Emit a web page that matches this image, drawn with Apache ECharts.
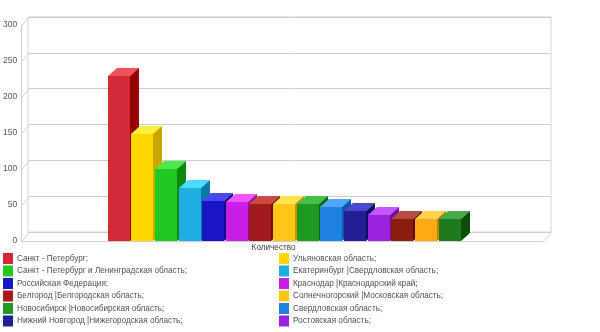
<!DOCTYPE html>
<html>
<head>
<meta charset="utf-8">
<script src="https://cdn.jsdelivr.net/npm/echarts@6/dist/echarts.min.js"></script>
<style>
html,body{margin:0;padding:0;background:#fff;}
#c{width:600px;height:332px;}
</style>
</head>
<body>
<div id="c"></div>
<script>
// ---- data ----
var categories = ['Количество'];
var regionNames = [
  'Санкт - Петербург;',
  'Ульяновская область;',
  'Санкт - Петербург и Ленинградская область;',
  'Екатеринбург |Свердловская область;',
  'Российская Федерация;',
  'Краснодар |Краснодарский край;',
  'Белгород |Белгородская область;',
  'Солнечногорский |Московская область;',
  'Новосибирск |Новосибирская область;',
  'Свердловская область;',
  'Нижний Новгород |Нижегородская область;',
  'Ростовская область;',
  '(13)', '(14)', '(15)'
];
var values = [229, 148, 100, 73, 56, 54, 52, 52, 51, 47, 42, 36, 31, 31, 30];
var yTicks = [0, 50, 100, 150, 200, 250, 300];
var visibleLegendCount = 12;

// ---- styles ----
var frontColors = ['#d42a36','#ffd800','#22c722','#1eaee2','#1616c4','#c81ee8','#a21c1c','#ffc61a','#209a20','#1f82e2','#221f96','#9a22dc','#8c1c10','#ffaa12','#1e7a1e'];
var topColors   = ['#f0525c','#fff040','#4ce84c','#48dcff','#4a4af2','#ee56ff','#cc4a44','#ffe44a','#46c046','#50a8ff','#4a48cc','#c456ff','#b44c40','#ffd24a','#46ac46'];
var sideColors  = ['#980000','#c8a800','#0b8a0b','#0a7aa8','#0c0c8a','#9010aa','#6c0c0c','#c89200','#0c660c','#0d58a8','#0e0e5a','#6c10a4','#5c0c04','#c47e00','#0a4e0a'];
var DX = 9, DY = 8;          // bar depth
var WX = 8, WY = 9;          // wall depth
var FIRST_BAR = 1;
var PITCH = 0.0453;          // bar pitch as share of band
var FILL = 0.93;
var FS = 8.2;

function renderBar(params, api) {
  var i = params.seriesIndex - FIRST_BAR;
  var base = api.coord([0, 0]);
  var top = api.coord([0, api.value(1)]);
  var band = api.size([1, 0])[0];
  var pitch = band * PITCH;
  var w = pitch * FILL;
  var cx = base[0] + (i - (values.length - 1) / 2) * pitch + 2;
  var x0 = Math.round(cx - w / 2), x1 = Math.round(cx + w / 2);
  var ty = Math.round(top[1]), by = Math.round(base[1]);
  return {
    type: 'group',
    children: [
      {type: 'rect', shape: {x: x0, y: ty, width: x1 - x0, height: by - ty}, style: {fill: frontColors[i]}},
      {type: 'polygon', shape: {points: [[x0, ty], [x1, ty], [x1 + DX, ty - DY], [x0 + DX, ty - DY]]}, style: {fill: topColors[i]}},
      {type: 'polygon', shape: {points: [[x1, ty], [x1 + DX, ty - DY], [x1 + DX, by - DY], [x1, by]]}, style: {fill: sideColors[i]}}
    ]
  };
}

function renderFrame(params, api) {
  var cs = params.coordSys;
  var lx = cs.x + 0.5;
  var children = [];
  yTicks.forEach(function (v) {
    var y = Math.round(api.coord([0, v])[1]) + 0.5;
    children.push({type: 'line', shape: {x1: lx, y1: y, x2: lx + WX, y2: y - WY}, style: {stroke: '#cfcfcf', lineWidth: 1}});
  });
  var rx = cs.x + cs.width + 0.5;
  var by = Math.round(api.coord([0, 0])[1]) + 0.5;
  children.push({type: 'line', shape: {x1: rx, y1: by, x2: rx + WX, y2: by - WY}, style: {stroke: '#cfcfcf', lineWidth: 1}});
  return {type: 'group', children: children};
}

var series = [{
  type: 'custom', name: 'frame', xAxisIndex: 0, yAxisIndex: 0,
  renderItem: renderFrame, data: [[0, 0]], silent: true, z: 1
}];
values.forEach(function (v, i) {
  series.push({
    type: 'custom', name: regionNames[i], xAxisIndex: 0, yAxisIndex: 0,
    renderItem: renderBar, data: [[0, v]], z: 3,
    itemStyle: {color: frontColors[i]}
  });
});

var leftNames = [], rightNames = [];
for (var k = 0; k < visibleLegendCount; k++) {
  (k % 2 === 0 ? leftNames : rightNames).push(regionNames[k]);
}
var legendCommon = {
  orient: 'vertical', top: 253, icon: 'rect', itemWidth: 10, itemHeight: 11, itemGap: 1.5,
  selectedMode: false, padding: 0,
  textStyle: {fontSize: FS, color: '#505050', fontFamily: 'Liberation Sans', padding: [0, 0, 0, -1]}
};

var option = {
  animation: false,
  backgroundColor: '#fff',
  textStyle: {fontFamily: 'Liberation Sans'},
  grid: [
    {left: 20, right: 57, top: 25, bottom: 91},
    {left: 28, right: 49, top: 17, bottom: 100, show: true, borderColor: '#d6d6d6', borderWidth: 1, backgroundColor: 'transparent'}
  ],
  xAxis: [
    {type: 'category', gridIndex: 0, data: categories,
     axisLine: {show: true, lineStyle: {color: '#cfcfcf'}}, axisTick: {show: false},
     axisLabel: {show: true, fontSize: FS, color: '#444', margin: 3, padding: [0, 17, 0, 0]},
     splitLine: {show: false}},
    {type: 'category', gridIndex: 1, data: categories,
     axisLine: {show: false}, axisTick: {show: false}, axisLabel: {show: false}, splitLine: {show: false}}
  ],
  yAxis: [
    {type: 'value', gridIndex: 0, min: 0, max: 300, interval: 50,
     axisLine: {show: true, lineStyle: {color: '#cfcfcf'}}, axisTick: {show: false},
     axisLabel: {fontSize: 8.5, color: '#555', margin: 4},
     splitLine: {show: false}},
    {type: 'value', gridIndex: 1, min: 0, max: 300, interval: 50,
     axisLine: {show: false}, axisTick: {show: false}, axisLabel: {show: false},
     splitLine: {show: true, lineStyle: {color: '#cccccc'}}}
  ],
  legend: [
    Object.assign({}, legendCommon, {left: 3, data: leftNames}),
    Object.assign({}, legendCommon, {left: 279, data: rightNames})
  ],
  series: series
};

var chart = echarts.init(document.getElementById('c'), null, {renderer: 'canvas'});
chart.setOption(option);
</script>
</body>
</html>
